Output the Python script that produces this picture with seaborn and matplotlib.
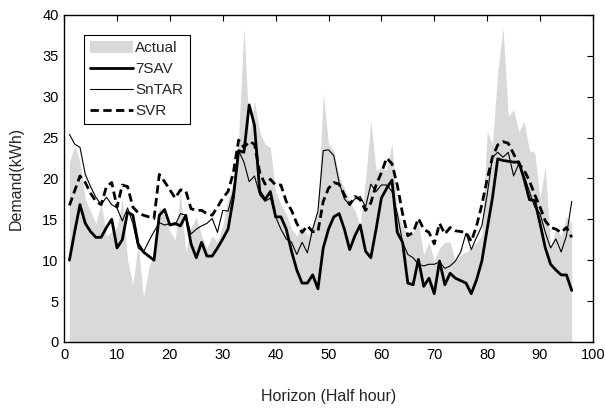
import numpy as np
import pandas as pd
import matplotlib
matplotlib.use("Agg")
import matplotlib.pyplot as plt
import seaborn as sns
from matplotlib.patches import Patch
from matplotlib.lines import Line2D

horizon = list(range(1, 97))

actual = [22, 24, 22, 17.5, 16, 14.5, 17, 13, 13.5, 14,
          17.5, 10, 7, 12, 5.5, 9, 11, 16.5, 15.5, 13.5,
          12.5, 18.5, 11, 14, 15.3, 13, 11.5, 13, 12.2, 14.2,
          17.6, 19.5, 25, 38.5, 25.5, 29.5, 25.7, 24.2, 23.8, 18.4,
          16.8, 15.7, 13.8, 13, 14.2, 13, 14.2, 16.1, 30.5, 24.2,
          23.4, 20.3, 18.8, 17.2, 16.1, 14.2, 19.9, 27, 21, 21.3,
          21, 24.3, 16.1, 14.2, 13, 13.4, 14.5, 10.7, 12.2, 9.9,
          11.5, 12.2, 12.2, 9.9, 10.7, 11, 11.5, 12.2, 13, 25.7,
          24.2, 33, 38.4, 27.6, 28.4, 25.7, 27, 23.4, 23.2, 17.6,
          21.5, 11.5, 13.8, 13, 15.3, 14.5]

sav7 = [10, 13.5, 16.8, 14.5, 13.5, 12.8, 12.8, 14, 15, 11.5,
        12.5, 15.9, 15.5, 12, 11, 10.5, 10, 15.5, 16.2, 14.3,
        14.5, 14.2, 15.5, 12, 10.3, 12.2, 10.5, 10.5, 11.5, 12.6,
        13.8, 17.6, 23.4, 23.2, 29, 26.5, 18.4, 17.4, 18.4, 15.3,
        15.3, 13.8, 11.1, 8.8, 7.2, 7.2, 8.2, 6.5, 11.5, 13.8,
        15.3, 15.7, 13.8, 11.3, 13, 14.3, 11.1, 10.3, 13.8, 17.6,
        18.8, 19.8, 13.4, 12.2, 7.2, 7, 10.1, 6.8, 7.8, 5.9,
        9.9, 7, 8.4, 7.8, 7.5, 7.2, 5.9, 7.6, 9.9, 13.8,
        17.6, 22.4, 22.2, 22.1, 22, 22, 19.9, 17.4, 17.3, 14.5,
        11.5, 9.5, 8.8, 8.2, 8.2, 6.3]

sntar = [25.4, 24.2, 23.8, 20.5, 19, 17.7, 16.8, 17.7, 16.8, 16.4,
         14.8, 16.4, 14.5, 11.5, 11, 12.3, 13.5, 14.6, 14.3, 14.5,
         14.3, 15.7, 15.5, 13.2, 13.8, 14.2, 14.5, 15.1, 13.4, 16.1,
         16, 18.4, 23.4, 22, 19.6, 20.3, 18, 17.2, 17.6, 15.3,
         13.8, 12.6, 12.2, 10.7, 12.2, 10.9, 13.8, 16, 23.4, 23.5,
         22.8, 19.5, 17.5, 16.8, 17.5, 17.8, 16.5, 19.3, 18.4, 19.2,
         19.2, 18.4, 15.7, 12.2, 10.7, 10.3, 9.5, 9.3, 9.5, 9.5,
         9.8, 9, 9.3, 9.9, 11, 13.3, 11.3, 12.8, 14.2, 18,
         22.6, 23.2, 22.6, 23.2, 20.3, 21.8, 20.3, 18.4, 16.5, 15.7,
         13.4, 11.5, 12.6, 11, 13, 17.2]

svr = [16.7, 18.5, 20.3, 19.5, 18.2, 17.2, 16.8, 19, 19.5, 16.5,
       19.2, 19, 16.5, 15.8, 15.5, 15.3, 15.1, 20.5, 19.6, 18.6,
       17.6, 18.6, 18.5, 16.3, 16.1, 16.1, 15.7, 15.5, 16.5, 17.6,
       18.4, 20.7, 24.7, 23.8, 24.5, 24.2, 20.7, 19.3, 19.9, 19.2,
       19.2, 17.2, 16.1, 14.5, 13.4, 14.2, 13.5, 13.5, 17.2, 18.8,
       19.5, 19.3, 18, 16.8, 17.8, 17.4, 16.1, 17, 19.2, 20.7,
       22.5, 21.8, 19.2, 15.7, 13, 13.4, 15.1, 13.8, 13.4, 12,
       14.5, 13.2, 14, 13.6, 13.5, 13.4, 12.3, 14.2, 16.8, 19.9,
       22.6, 24.1, 24.5, 24.3, 23, 21.8, 21, 19.7, 18, 16.5,
       14.8, 14, 13.8, 13.4, 14, 12.8]

x_ticks = [0, 10, 20, 30, 40, 50, 60, 70, 80, 90, 100]
y_ticks = [0, 5, 10, 15, 20, 25, 30, 35, 40]

sns.set_style("white")
plt.rcParams['font.family'] = ['Liberation Sans', 'DejaVu Sans']

df = pd.DataFrame({"h": horizon, "Actual": actual, "7SAV": sav7,
                   "SnTAR": sntar, "SVR": svr})

fig = plt.figure(figsize=(6.05, 4.15), dpi=100)
ax = fig.add_axes([0.106, 0.176, 0.874, 0.788])

ax.fill_between(df["h"], 0, df["Actual"], color="#d9d9d9", linewidth=0)
sns.lineplot(data=df, x="h", y="7SAV", ax=ax, color="black", linewidth=2.0)
sns.lineplot(data=df, x="h", y="SnTAR", ax=ax, color="black", linewidth=0.8)
sns.lineplot(data=df, x="h", y="SVR", ax=ax, color="black", linewidth=2.0,
             linestyle=(0, (3, 1.6)))

ax.set_xlim(0, 100)
ax.set_ylim(0, 40)
ax.set_xticks(x_ticks)
ax.set_yticks(y_ticks)
ax.tick_params(direction="in", length=4, width=0.8, top=True, right=True,
               labelsize=10.5, colors="black", pad=4)
for s in ax.spines.values():
    s.set_color("black")
    s.set_linewidth(1.0)
ax.set_xlabel("Horizon (Half hour)", fontsize=11.5, labelpad=20)
ax.set_ylabel("Demand(kWh)", fontsize=11.5, labelpad=13)

handles = [Patch(facecolor="#d9d9d9", edgecolor="none"),
           Line2D([], [], color="black", linewidth=2.0),
           Line2D([], [], color="black", linewidth=0.8),
           Line2D([], [], color="black", linewidth=2.0, linestyle=(0, (3, 1.6)))]
leg = ax.legend(handles, ["Actual", "7SAV", "SnTAR", "SVR"],
                loc="upper left", bbox_to_anchor=(0.038, 0.94),
                fontsize=11, frameon=True, fancybox=False, framealpha=1,
                edgecolor="black", handlelength=2.8, handleheight=0.9,
                labelspacing=0.42, borderpad=0.4, handletextpad=0.15,
                borderaxespad=0)
leg.get_frame().set_linewidth(0.8)

fig.savefig("out.png", dpi=100)
